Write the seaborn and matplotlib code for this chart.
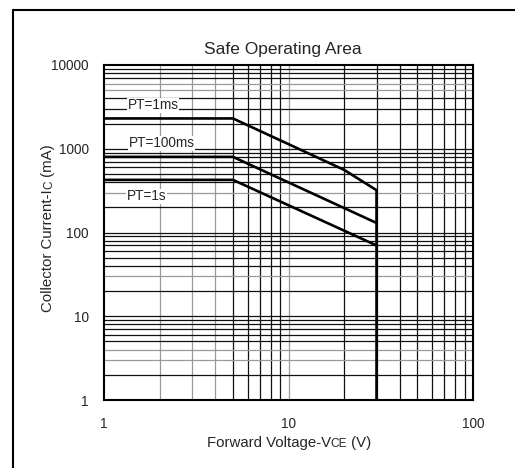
import matplotlib
matplotlib.use("Agg")
import matplotlib.pyplot as plt
import seaborn as sns
import pandas as pd
import numpy as np

# ---- data ----
vce_1ms = [1, 5, 20, 30, 30]
ic_1ms = [2300, 2300, 560, 320, 1]
vce_100ms = [1, 5, 30]
ic_100ms = [800, 800, 130]
vce_1s = [1, 5, 30]
ic_1s = [425, 425, 70]
series_names = ["PT=1ms", "PT=100ms", "PT=1s"]
label_x = [1.85, 2.05, 1.7]
label_y = [3300, 1160, 270]
x_ticks = [1, 10, 100]
y_ticks = [1, 10, 100, 1000, 10000]

sns.set_style("white")
plt.rcParams['font.family'] = ['Liberation Sans', 'DejaVu Sans']

df = pd.concat([
    pd.DataFrame({"VCE": vce_1ms, "IC": ic_1ms, "series": series_names[0]}),
    pd.DataFrame({"VCE": vce_100ms, "IC": ic_100ms, "series": series_names[1]}),
    pd.DataFrame({"VCE": vce_1s, "IC": ic_1s, "series": series_names[2]}),
], ignore_index=True)

W, H = 515, 468
fig = plt.figure(figsize=(W / 100, H / 100), dpi=100)
ax = fig.add_axes([104/W, 68/H, 369/W, 335/H])
ax.set_xscale("log")
ax.set_yscale("log")
ax.set_xlim(1, 100)
ax.set_ylim(1, 10000)

# grid lines (log minor grid, some grey, most black)
grey_x = {2, 3, 4, 10}
for dec in [1, 10]:
    for m in range(1, 10):
        v = dec * m
        if v in (1, 100):
            continue
        c = "#9a9a9a" if v in grey_x else "#111111"
        ax.axvline(v, color=c, lw=0.9, zorder=1)
grey_y = {3, 4, 300, 5000, 6000, 30}
for dec in [1, 10, 100, 1000]:
    for m in range(1, 10):
        v = dec * m
        if v == 1:
            continue
        c = "#9a9a9a" if v in grey_y else "#111111"
        ax.axhline(v, color=c, lw=0.9, zorder=1)

sns.lineplot(data=df, x="VCE", y="IC", units="series", estimator=None, sort=False,
             color="black", lw=1.9, ax=ax, legend=False, zorder=3)

for name, lx, ly in zip(series_names, label_x, label_y):
    ax.text(lx, ly, name, ha="center", va="center", fontsize=9.8, zorder=4,
            bbox=dict(facecolor="white", edgecolor="none", pad=0.5))

ax.set_xticks(x_ticks)
ax.set_xticklabels([str(t) for t in x_ticks])
ax.set_yticks(y_ticks)
ax.set_yticklabels([str(t) for t in y_ticks])
ax.minorticks_off()
ax.tick_params(axis="both", length=0, labelsize=9.8)
ax.tick_params(axis="x", pad=12)
ax.tick_params(axis="y", pad=11)
for s in ax.spines.values():
    s.set_color("black")
    s.set_linewidth(1.5)
    s.set_zorder(5)

ax.set_xlabel("")
ax.set_ylabel("")
ax.set_title("Safe Operating Area", fontsize=12.5, pad=8, x=0.485)

fig.canvas.draw()
r = fig.canvas.get_renderer()

# x label with small-caps style "CE"
xparts = [("Forward Voltage-V", 10.8), ("CE", 8.6), (" (V)", 10.8)]
xt = [fig.text(0, 0, s, fontsize=fs, ha="left", va="baseline") for s, fs in xparts]
widths = [t.get_window_extent(r).width for t in xt]
x0 = 289 - sum(widths) / 2
base_px = H - 447
for t, w in zip(xt, widths):
    t.set_position((x0 / W, base_px / H))
    x0 += w

# y label with small-caps style "C"
yparts = [("Collector Current-I", 10.8), ("C", 8.6), (" (mA)", 10.8)]
yt = [fig.text(0, 0, s, fontsize=fs, ha="left", va="baseline", rotation=90,
               rotation_mode="anchor") for s, fs in yparts]
heights = [t.get_window_extent(r).height for t in yt]
y0 = (H - 228) - sum(heights) / 2
base_x = 52
for t, h in zip(yt, heights):
    t.set_position((base_x / W, y0 / H))
    y0 += h

# outer frame (left and top edges)
fig.add_artist(plt.Line2D([13/W, 13/W], [0, 1 - 10/H], color="black", lw=1.5, transform=fig.transFigure))
fig.add_artist(plt.Line2D([13/W, 1], [1 - 10/H, 1 - 10/H], color="black", lw=1.5, transform=fig.transFigure))

fig.savefig("out.png", dpi=100)
